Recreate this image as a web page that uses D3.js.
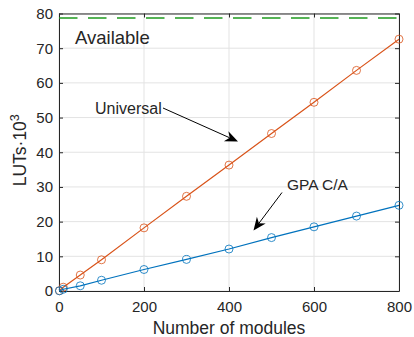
<!DOCTYPE html>
<html>
  <head>
    <script src="https://d3js.org/d3.v7.min.js"></script>
    <style>
      body { margin: 0; background: #fff; }
      svg text { font-family: "Liberation Sans", Arial, sans-serif; fill: #262626; }
    </style>
  </head>
  <body>
    <script type="text/javascript">
      // data
      var modules = [1, 10, 50, 100, 200, 300, 400, 500, 600, 700, 800];
      var universal = [0.1, 1.1, 4.6, 9.0, 18.2, 27.3, 36.3, 45.4, 54.4, 63.6, 72.6];
      var gpa = [0.05, 0.5, 1.5, 3.1, 6.2, 9.1, 12.1, 15.4, 18.5, 21.6, 24.7];
      var available = 78.7;
      var xTicks = [0, 200, 400, 600, 800];
      var yTicks = [0, 10, 20, 30, 40, 50, 60, 70, 80];

      var margin = {top: 13.5, right: 15, bottom: 46, left: 59};
      var width = 414 - margin.left - margin.right;
      var height = 337 - margin.top - margin.bottom;

      var x = d3.scaleLinear().domain([0, 800]).range([0, width]);
      var y = d3.scaleLinear().domain([0, 80]).range([height, 0]);

      var svg = d3.select("body").append("svg")
          .attr("width", 414)
          .attr("height", 337)
        .append("g")
          .attr("transform", "translate(" + margin.left + "," + margin.top + ")");

      // grid
      svg.append("g").selectAll("line").data(xTicks).enter().append("line")
        .attr("x1", function(d) { return x(d); }).attr("x2", function(d) { return x(d); })
        .attr("y1", 0).attr("y2", height)
        .attr("stroke", "#e3e3e3").attr("stroke-width", 1);
      svg.append("g").selectAll("line").data(yTicks).enter().append("line")
        .attr("y1", function(d) { return y(d); }).attr("y2", function(d) { return y(d); })
        .attr("x1", 0).attr("x2", width)
        .attr("stroke", "#e3e3e3").attr("stroke-width", 1);

      // axes
      function styleAxis(g) {
        g.selectAll("path, line").attr("stroke", "#262626");
        g.selectAll("text").style("font-size", "15px").attr("fill", "#262626");
      }
      svg.append("g")
        .attr("transform", "translate(0," + height + ")")
        .call(d3.axisBottom(x).tickValues(xTicks).tickSizeInner(-4).tickSizeOuter(0).tickPadding(10))
        .call(styleAxis);
      svg.append("g")
        .call(d3.axisLeft(y).tickValues(yTicks).tickSizeInner(-4).tickSizeOuter(0).tickPadding(6))
        .call(styleAxis);
      svg.append("g")
        .call(d3.axisTop(x).tickValues(xTicks).tickSizeInner(-4).tickSizeOuter(0).tickFormat(""))
        .call(styleAxis);
      svg.append("g")
        .attr("transform", "translate(" + width + ",0)")
        .call(d3.axisRight(y).tickValues(yTicks).tickSizeInner(-4).tickSizeOuter(0).tickFormat(""))
        .call(styleAxis);

      // available line
      svg.append("line")
        .attr("x1", 0).attr("x2", width)
        .attr("y1", y(available)).attr("y2", y(available))
        .attr("stroke", "#1f9a1f").attr("stroke-width", 1.5)
        .attr("stroke-dasharray", "18.5,10.5");

      var line = d3.line()
        .x(function(d) { return x(d[0]); })
        .y(function(d) { return y(d[1]); });

      function series(vals, color) {
        var pts = modules.map(function(m, i) { return [m, vals[i]]; });
        svg.append("path").datum(pts)
          .attr("d", line).attr("fill", "none")
          .attr("stroke", color).attr("stroke-width", 1.2);
        svg.append("g").selectAll("circle").data(pts).enter().append("circle")
          .attr("cx", function(d) { return x(d[0]); })
          .attr("cy", function(d) { return y(d[1]); })
          .attr("r", 4)
          .attr("fill", "none").attr("stroke", color).attr("stroke-width", 0.8);
      }
      series(universal, "#D95319");
      series(gpa, "#0072BD");

      // labels
      svg.append("text").attr("x", 16).attr("y", 30)
        .style("font-size", "18.5px").text("Available");
      svg.append("text").attr("x", 36).attr("y", 100.5)
        .style("font-size", "16px").text("Universal");
      svg.append("text").attr("x", 228).attr("y", 176)
        .style("font-size", "15.5px").text("GPA C/A");

      function arrow(x1, y1, x2, y2) {
        var a = Math.atan2(y2 - y1, x2 - x1);
        var len = 13, half = 5.5;
        var bx = x2 - len * Math.cos(a), by = y2 - len * Math.sin(a);
        var nx = -Math.sin(a), ny = Math.cos(a);
        var mx = x2 - len * 0.7 * Math.cos(a), my = y2 - len * 0.7 * Math.sin(a);
        svg.append("line")
          .attr("x1", x1).attr("y1", y1).attr("x2", mx).attr("y2", my)
          .attr("stroke", "#000").attr("stroke-width", 1);
        svg.append("path")
          .attr("d", "M" + x2 + "," + y2 +
            "L" + (bx + nx * half) + "," + (by + ny * half) +
            "L" + mx + "," + my +
            "L" + (bx - nx * half) + "," + (by - ny * half) + "Z")
          .attr("fill", "#000");
      }
      arrow(104, 94.5, 179, 128);
      arrow(223, 179, 194.5, 217);

      // axis titles
      svg.append("text")
        .attr("x", width / 2).attr("y", height + 42.5)
        .attr("text-anchor", "middle")
        .style("font-size", "17.5px").text("Number of modules");
      var yl = svg.append("text")
        .attr("transform", "translate(-33," + (height / 2 - 2) + ") rotate(-90)")
        .attr("text-anchor", "middle")
        .style("font-size", "17.5px");
      yl.append("tspan").text("LUTs\u00b710");
      yl.append("tspan").attr("dy", -7).style("font-size", "12.5px").text("3");
    </script>
  </body>
</html>
